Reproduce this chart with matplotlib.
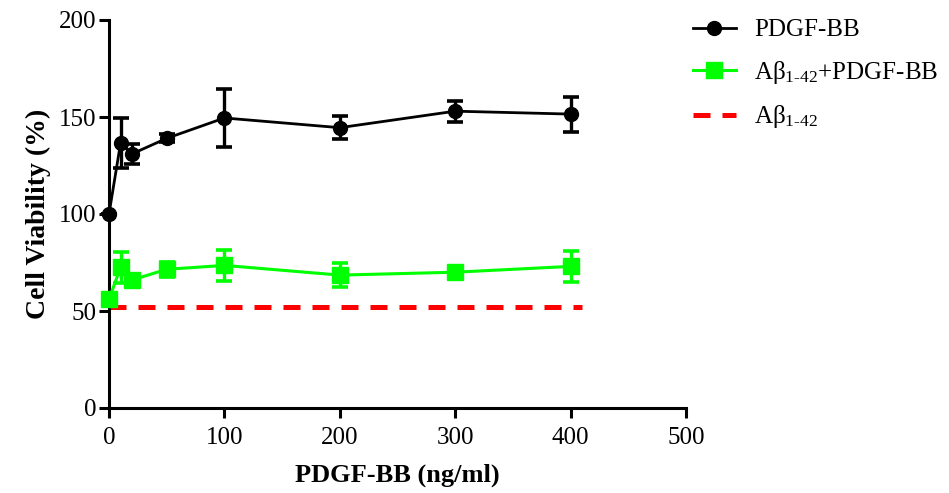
import numpy as np
import matplotlib
matplotlib.use("Agg")
import matplotlib.pyplot as plt

plt.rcParams['font.family'] = ['Liberation Serif', 'DejaVu Serif']
plt.rcParams['mathtext.fontset'] = 'custom'
plt.rcParams['mathtext.rm'] = 'Liberation Serif'
plt.rcParams['mathtext.it'] = 'Liberation Serif:italic'

# data
dose = [0, 10, 20, 50, 100, 200, 300, 400]
pdgf_mean = [100, 136.5, 131, 139, 149.5, 144.5, 153, 151.5]
pdgf_err = [0, 13, 5, 2, 15, 6, 5.5, 9]
ab_pdgf_mean = [56, 72.5, 66, 71.5, 73.5, 68.5, 70, 73]
ab_pdgf_err = [0, 8, 2, 4, 8, 6, 2, 8]
ab_level = 52
ab_x = [0, 410]

labels = ['PDGF-BB', 'Aβ$_{1\\text{-}42}$+PDGF-BB', 'Aβ$_{1\\text{-}42}$']

fig = plt.figure(figsize=(9.49, 4.93), dpi=100)
ax = fig.add_axes([109/949, 1-408/493, (686-109)/949, (408-20)/493])

h3, = ax.plot(ab_x, [ab_level]*2, color='#ff0000', lw=3.6,
              dashes=(3.4, 2.4), clip_on=False, zorder=2)
h2 = ax.errorbar(dose, ab_pdgf_mean, yerr=ab_pdgf_err, color='#00ff00',
                 marker='s', ms=11, lw=2.2, elinewidth=2.4, capsize=5.5,
                 capthick=2.6, clip_on=False, zorder=3)
h1 = ax.errorbar(dose, pdgf_mean, yerr=pdgf_err, color='black',
                 marker='o', ms=10, lw=2.0, elinewidth=2.4, capsize=5.5,
                 capthick=2.6, clip_on=False, zorder=4)
for h in (h1, h2):
    for c in h.get_children():
        c.set_clip_on(False)

ax.set_xlim(0, 500)
ax.set_ylim(0, 200)
ax.set_xticks([0, 100, 200, 300, 400, 500])
ax.set_yticks([0, 50, 100, 150, 200])
for s in ['top', 'right']:
    ax.spines[s].set_visible(False)
for s in ['left', 'bottom']:
    ax.spines[s].set_linewidth(2.2)
ax.tick_params(width=2.2, length=7, labelsize=18, direction='out')
ax.tick_params(axis='x', pad=7)
ax.tick_params(axis='y', pad=2)

ax.set_xlabel('PDGF-BB (ng/ml)', fontsize=19, fontweight='bold', labelpad=10)
ax.set_ylabel('Cell Viability (%)', fontsize=20, fontweight='bold', labelpad=6)

leg = fig.legend([h1[0], h2[0], h3], labels, loc='upper left',
                 bbox_to_anchor=(683/949, 1-9/493), frameon=False,
                 fontsize=18, handlelength=1.7, handletextpad=0.75,
                 labelspacing=0.7, borderaxespad=0)

fig.savefig('out.png', dpi=100)
